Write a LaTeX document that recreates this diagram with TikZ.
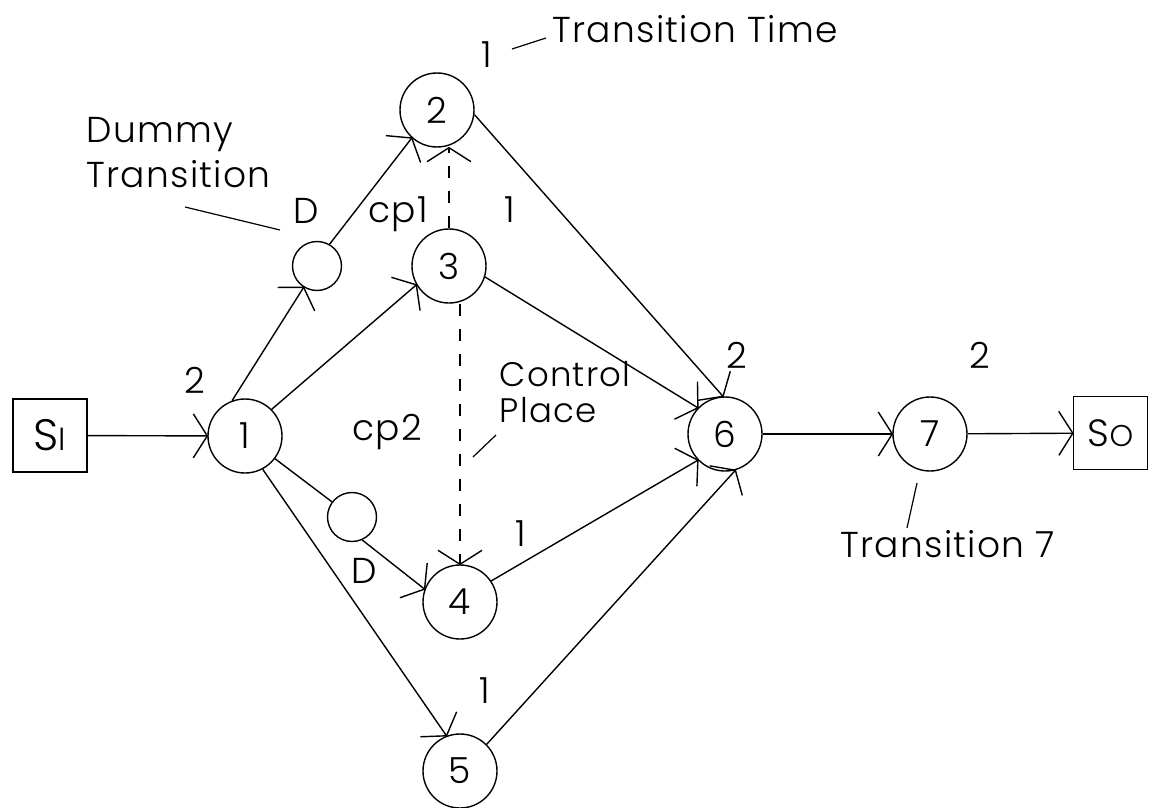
\documentclass[tikz,border=0pt]{standalone}
\usepackage{fontspec}
\IfFontExistsTF{Poppins Light}
  {\setmainfont{Poppins Light}[LetterSpace=3.5]}
  {\setmainfont{Poppins}[LetterSpace=3.5]}
\usetikzlibrary{arrows.meta}
\newcommand\figfont{\fontsize{36}{36}\selectfont}

% open V-shaped arrow head with wide barbs
\pgfdeclarearrow{
  name=vbarb,
  setup code={
    \pgfarrowssettipend{0pt}
    \pgfarrowssetlineend{0pt}
    \pgfarrowssetbackend{-14pt}
    \pgfarrowshullpoint{0pt}{0pt}
    \pgfarrowshullpoint{-14pt}{22pt}
    \pgfarrowshullpoint{-14pt}{-22pt}
  },
  drawing code={
    \pgfsetdash{}{0pt}
    \pgfpathmoveto{\pgfqpoint{-14pt}{22pt}}
    \pgfpathlineto{\pgfqpoint{0pt}{0pt}}
    \pgfpathlineto{\pgfqpoint{-14pt}{-22pt}}
    \pgfusepathqstroke
  }
}

\begin{document}
\begin{tikzpicture}[x=1pt,y=-1pt,
  line width=1.4pt,
  place/.style={circle,draw,minimum size=74pt,inner sep=0pt,font=\figfont},
  dummy/.style={circle,draw,minimum size=49pt,inner sep=0pt},
  sbox/.style={rectangle,draw,minimum width=74pt,minimum height=73pt,inner sep=0pt},
  flow/.style={-vbarb},
  ctrl/.style={flow,dash pattern=on 12pt off 13pt},
  lead/.style={line width=1.2pt},
  txt/.style={inner sep=0pt,font=\figfont}]

\useasboundingbox (0,0) rectangle (1154,808);

% places / transitions
\node[sbox] (si) at (50,435.5) {\fontsize{44}{44}\selectfont S\fontsize{32}{32}\selectfont I};
\node[place] (n1) at (245,436) {1};
\node[dummy] (du) at (317,266) {};
\node[dummy] (dl) at (352,517) {};
\node[place] (n2) at (437,110) {2};
\node[place] (n3) at (449,266) {3};
\node[place] (n4) at (460,602) {4};
\node[place] (n5) at (460,771) {5};
\node[place] (n6) at (725,434) {6};
\node[place] (n7) at (930,434) {7};
\node[sbox] (so) at (1110.5,433) {\fontsize{38}{38}\selectfont S\fontsize{30}{30}\selectfont O};

% arcs
\draw[flow] (si) -- (n1);
\draw[flow] (n1.110) -- (du.238);
\draw[flow] (du.60) -- (n2.228);
\draw[flow] (n1.45) -- (n3.210);
\draw (n1) -- (dl);
\draw[flow] (dl.-66) -- (n4.160);
\draw[flow] (n1.-62) -- (n5.111);
\draw[flow] (n2.-7) -- (n6.93);
\draw[flow] (n3.-17) -- (n6.136);
\draw[flow] (n4.34) -- (n6.224);
\draw[flow] (n5.45) -- (n6.-74);
\draw[flow] (n6) -- (n7);
\draw[flow] (n7) -- (so);

% control places (dashed)
\draw[ctrl] (n3.north) -- (n3.north |- n2.south);
\draw[ctrl] (n4.north |- n3.south) -- (n4.north);

% transition times and labels
\node[txt,anchor=base] (t1) at (195,393) {2};
\node[txt,anchor=base] (t2) at (487,67) {1};
\node[txt,anchor=base] (t3) at (510,222) {1};
\node[txt,anchor=base] (t4) at (521,546) {1};
\node[txt,anchor=base] (t5) at (485,703) {1};
\node[txt,anchor=base] (t6) at (737,368) {2};
\node[txt,anchor=base] (t7) at (980,368) {2};
\node[txt,anchor=base] (dlu) at (306,223) {D};
\node[txt,anchor=base] (dll) at (364,583) {D};
\node[txt,anchor=base] (cp1) at (398,222) {cp1};
\node[txt,anchor=base] (cp2) at (387,440) {cp2};

\node[txt,anchor=base west] (ltt) at (552,43) {Transition Time};
\node[txt,anchor=west,align=left,font=\fontsize{36}{45}\selectfont] (ldt) at (86,153) {Dummy\\Transition};
\node[txt,anchor=west,align=left,font=\fontsize{34}{36}\selectfont] (lcp) at (499,392) {Control\\Place};
\node[txt,anchor=base west] (lt7) at (840,557) {Transition 7};

% leader lines
\coordinate (a1) at (512,49);  \coordinate (a2) at (546,38);
\coordinate (b1) at (185,207); \coordinate (b2) at (280,230);
\coordinate (c1) at (496,435); \coordinate (c2) at (473,457);
\coordinate (d1) at (917,483); \coordinate (d2) at (907,528);
\draw[lead] (a1) -- (a2);
\draw[lead] (b1) -- (b2);
\draw[lead] (c1) -- (c2);
\draw[lead] (d1) -- (d2);
\end{tikzpicture}
\end{document}
